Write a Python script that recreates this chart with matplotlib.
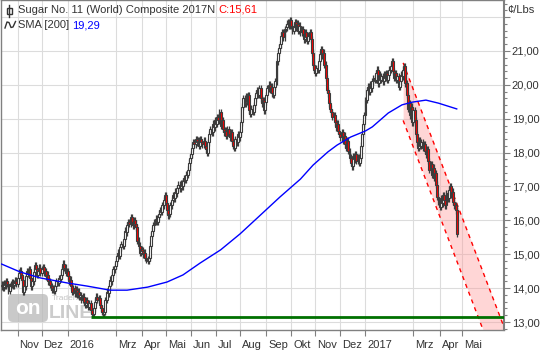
import numpy as np
import pandas as pd
import matplotlib
matplotlib.use("Agg")
import matplotlib.pyplot as plt
from matplotlib.patches import FancyBboxPatch, Rectangle
from matplotlib.ticker import FixedLocator, MultipleLocator, FuncFormatter
from matplotlib.transforms import Affine2D, ScaledTranslation

plt.rcParams["font.family"] = ["Liberation Sans", "DejaVu Sans"]
plt.rcParams["font.size"] = 8

# Daily closes, Sugar No. 11 (World) Composite, cents per pound
oct15 = [14.10, 14.02, 14.15, 14.08, 14.20, 14.12, 13.92, 14.05, 14.10, 14.18,
         14.08, 14.15, 14.22, 14.12]
nov15 = [14.30, 14.45, 14.52, 14.40, 14.25, 13.90, 14.05, 14.35, 14.50, 14.42,
         14.55, 14.30, 14.05, 14.20, 14.48, 14.68, 14.55, 14.40, 14.50, 14.60,
         14.45]
dec15 = [14.55, 14.62, 14.45, 14.50, 14.35, 14.40, 14.20, 14.10, 14.05, 13.95,
         14.00, 13.92, 14.05, 14.20, 14.15, 14.30, 14.28, 14.40, 14.55, 14.72,
         14.60, 14.45, 14.50]
jan16 = [14.35, 14.20, 14.25, 14.05, 13.90, 14.00, 13.85, 13.95, 13.80, 13.90,
         13.75, 13.80, 13.65, 13.75, 13.60, 13.50, 13.65, 13.55, 13.45, 13.55,
         13.35]
feb16 = [13.25, 13.24, 13.40, 13.60, 13.75, 13.65, 13.70, 13.50, 13.40, 13.30,
         13.24, 13.30, 13.65, 13.90, 13.85, 14.05, 14.25, 14.20, 14.40, 14.55,
         14.65]
mar16 = [14.80, 14.95, 15.05, 14.95, 15.20, 15.30, 15.25, 15.45, 15.70, 15.65,
         15.85, 15.95, 15.90, 16.10, 15.95, 15.85, 16.00, 15.90, 15.80, 15.40,
         15.25, 15.05, 15.15]
apr16 = [15.10, 15.00, 15.05, 14.90, 14.85, 14.80, 14.90, 15.25, 15.55, 15.70,
         15.85, 15.95, 16.05, 15.95, 16.10, 16.20, 16.30, 16.25, 16.45, 16.60,
         16.75]
may16 = [16.50, 16.30, 16.15, 16.20, 16.45, 16.60, 16.75, 16.65, 16.85, 16.80,
         16.95, 17.05, 16.95, 17.10, 17.00, 17.15, 17.25, 17.20, 17.35, 17.50,
         17.70, 17.85]
jun16 = [17.95, 18.15, 18.30, 18.25, 18.40, 18.30, 18.35, 18.20, 18.40, 18.30,
         18.25, 18.35, 18.20, 18.10, 18.00, 18.30, 18.55, 18.70, 18.60, 18.85,
         18.75, 18.95]
jul16 = [18.85, 19.05, 18.95, 19.20, 18.80, 18.95, 18.70, 18.60, 18.65, 18.50,
         18.70, 18.55, 18.45, 18.60, 18.35, 18.20, 18.15, 18.40, 18.30, 18.55,
         18.45]
aug16 = [18.60, 18.90, 19.35, 19.60, 19.45, 19.65, 19.50, 19.70, 19.25, 19.15,
         19.30, 19.20, 19.40, 19.60, 19.75, 19.85, 19.70, 19.90, 19.60, 19.45,
         19.55, 19.25, 19.50]
sep16 = [19.70, 19.90, 20.00, 19.85, 19.95, 19.75, 19.70, 19.95, 20.10, 20.70,
         20.95, 21.10, 21.20, 21.45, 21.55, 21.40, 21.65, 21.70, 21.80, 21.85,
         21.75, 21.90]
oct16 = [21.75, 21.60, 21.70, 21.85, 21.70, 21.80, 21.60, 21.75, 21.55, 21.65,
         21.50, 21.35, 21.55, 21.40, 21.30, 21.45, 21.55, 21.35, 20.95, 20.60,
         20.45]
nov16 = [20.35, 20.50, 20.45, 20.70, 20.90, 21.05, 20.85, 20.95, 20.60, 20.20,
         19.85, 19.75, 19.45, 19.30, 19.20, 19.05, 19.10, 18.90, 18.75, 18.85,
         18.65, 18.55]
dec16 = [18.45, 18.60, 18.35, 18.50, 18.25, 18.15, 18.35, 18.05, 17.85, 17.70,
         17.60, 17.90, 17.80, 17.95, 17.75, 17.85, 17.70, 17.85, 18.20, 18.55,
         18.85, 19.10]
jan17 = [19.55, 19.85, 19.95, 19.80, 20.00, 19.90, 20.10, 20.20, 20.15, 20.35,
         20.45, 20.05, 20.30, 20.15, 20.25, 20.10, 20.30, 20.20, 20.35, 20.15,
         20.30, 20.45]
feb17 = [20.55, 20.70, 20.40, 20.20, 20.35, 20.15, 20.25, 19.95, 20.10, 20.30,
         20.25, 20.45, 20.55, 20.05, 19.70, 19.30, 19.45, 19.10, 19.35, 18.90]
mar17 = [19.25, 18.95, 18.55, 18.30, 18.15, 18.35, 18.20, 18.30, 18.15, 18.25,
         18.05, 17.95, 18.10, 17.75, 17.50, 17.65, 17.35, 17.55, 17.25, 17.40,
         17.05, 16.70, 16.55]
apr17 = [16.40, 16.65, 16.50, 16.75, 16.60, 16.45, 16.80, 16.65, 16.90, 17.00,
         16.75, 16.85, 16.55, 16.45, 16.30, 15.61]
first_open = 14.05
wick = 0.1

# 200-day simple moving average
sma_dates = ["2015-10-13", "2015-11-04", "2015-11-30", "2016-01-01", "2016-01-26",
             "2016-02-23", "2016-03-15", "2016-04-08", "2016-05-03", "2016-05-23",
             "2016-06-13", "2016-07-07", "2016-08-01", "2016-08-25", "2016-09-19",
             "2016-10-13", "2016-10-28", "2016-11-16", "2016-11-28", "2016-12-14",
             "2017-01-02", "2017-01-10", "2017-01-30", "2017-02-15", "2017-02-28",
             "2017-03-16", "2017-03-31", "2017-04-24"]
sma_values = [14.71, 14.48, 14.30, 14.15, 14.06, 13.94, 13.94, 14.03, 14.18, 14.39,
              14.74, 15.13, 15.60, 16.16, 16.69, 17.22, 17.63, 18.02, 18.22, 18.46,
              18.64, 18.76, 19.17, 19.41, 19.49, 19.55, 19.46, 19.29]

# support line and falling trend channel
support_start = "2016-01-29"
support_level = 13.16
channel_dates = ["2017-02-16", "2017-06-20"]
channel_upper = [20.65, 12.89]
channel_lower = [18.95, 11.19]

tick_months = ["2015-11", "2015-12", "2016-01", "2016-03", "2016-04", "2016-05",
               "2016-06", "2016-07", "2016-08", "2016-09", "2016-10", "2016-11",
               "2016-12", "2017-01", "2017-03", "2017-04", "2017-05"]
tick_labels = ["Nov", "Dez", "2016", "Mrz", "Apr", "Mai", "Jun", "Jul", "Aug",
               "Sep", "Okt", "Nov", "Dez", "2017", "Mrz", "Apr", "Mai"]
y_ticks = [13, 14, 15, 16, 17, 18, 19, 20, 21, 22]

days = pd.bdate_range("2015-10-13", "2017-06-30")


def pos(d):
    return int(np.searchsorted(days, pd.Timestamp(d)))


close = np.array(oct15 + nov15 + dec15 + jan16 + feb16 + mar16 + apr16 + may16
                 + jun16 + jul16 + aug16 + sep16 + oct16 + nov16 + dec16
                 + jan17 + feb17 + mar17 + apr17)
x = np.arange(len(close))
opens = np.r_[first_open, close[:-1]]
highs = np.maximum(opens, close) + wick
lows = np.minimum(opens, close) - wick
fills = np.where(close < opens, "#ff0000", "#ffffff")

W, H = 550, 350
fig = plt.figure(figsize=(W / 100, H / 100), dpi=100)
ax = fig.add_axes([0.5 / W, 20 / H, 503 / W, 330 / H])
pix = Affine2D().scale(1 / W, -1 / H).translate(0, 1) + fig.transFigure

# trend channel
cx = [pos(d) for d in channel_dates]
ax.fill_between(cx, channel_lower, channel_upper, color="#ff9a9a", alpha=0.4,
                lw=0, zorder=1)
for yy in (channel_upper, channel_lower):
    ax.plot(cx, yy, color="#ff0000", lw=1, dashes=(3, 3), zorder=2)

# watermark
ax.add_patch(FancyBboxPatch((8, 294), 40, 28, boxstyle="round,pad=0,rounding_size=5",
                            transform=pix, fc="#b8b8b8", ec="none", alpha=0.75,
                            zorder=1.5))
ax.text(28, 309, "on", transform=pix, color="white", fontsize=15, weight="bold",
        ha="center", va="center", zorder=1.6)
ax.text(49, 314, "LINE", transform=pix, color="#cccccc", fontsize=14,
        weight="bold", ha="left", va="center", zorder=1.6)
ax.text(52, 298, "Traders'", transform=pix, color="#c4c4c4", fontsize=6,
        ha="left", va="center", zorder=1.6)

# candles
ax.vlines(x, lows, highs, color="#3c3c3c", lw=0.9, zorder=3)
ax.bar(x, close - opens, bottom=opens, width=1.7, color=fills,
       edgecolor="#3c3c3c", linewidth=0.8, zorder=4)

# SMA and support
ax.plot([pos(d) for d in sma_dates], sma_values, color="#0000ff", lw=1, zorder=5)
ax.hlines(support_level, pos(support_start), pos(channel_dates[1]),
          color="#007000", lw=2, zorder=5)

ax.set_xlim(-1, pos(channel_dates[1]))
ax.set_ylim(12.764, 22.505)

ax.yaxis.tick_right()
ax.yaxis.set_major_locator(FixedLocator(y_ticks))
ax.yaxis.set_major_formatter(FuncFormatter(
    lambda v, p: "" if v > 21.5 else f"{v:.2f}".replace(".", ",")))
ax.yaxis.set_minor_locator(MultipleLocator(0.2))
ax.tick_params(axis="y", which="major", length=4, width=0.8, color="#808080",
               labelsize=8, labelcolor="#333333", pad=2)
ax.tick_params(axis="y", which="minor", length=2, width=0.8, color="#808080")

ax.set_xticks([pos(m + "-01") for m in tick_months])
ax.set_xticklabels(tick_labels, ha="left")
ax.tick_params(axis="x", length=4, width=0.8, color="#808080", labelsize=8,
               labelcolor="#333333", pad=3)
shift = ScaledTranslation(2 / 100, 0, fig.dpi_scale_trans)
for lab in ax.get_xticklabels():
    lab.set_transform(lab.get_transform() + shift)

ax.grid(True, color="#dcdcdc", lw=0.8)
ax.set_axisbelow(True)
for s in ax.spines.values():
    s.set_color("#808080")
    s.set_linewidth(1)
ax.spines["right"].set_linewidth(1.5)

# header
ov = fig.add_axes([0, 0, 1, 1], zorder=10)
ov.set_xlim(0, W)
ov.set_ylim(H, 0)
ov.axis("off")
ov.text(507, 10, "¢/Lbs", color="#333333", fontsize=8, va="center", ha="left")

renderer = fig.canvas.get_renderer()


def text_run(xp, yp, parts, gap=3):
    for s, c in parts:
        t = ov.text(xp, yp, s, color=c, fontsize=8, va="center", ha="left")
        xp += t.get_window_extent(renderer=renderer).width + gap


text_run(18, 10, [("Sugar No. 11 (World) Composite 2017N", "#333333"),
                  ("C:15,61", "#ff0000")])
text_run(18, 25, [("SMA [200]", "#333333"), ("19,29", "#0000ff")])

ov.plot([9, 9], [5, 17], color="#333333", lw=1)
ov.add_patch(Rectangle((7, 7.5), 4.5, 6, fc="white", ec="#333333", lw=1))
ov.plot([5, 7, 9, 11, 13, 15.5], [28, 22, 22.5, 27.5, 27, 21.5], color="#333333", lw=1)

fig.savefig("out.png", dpi=100)
